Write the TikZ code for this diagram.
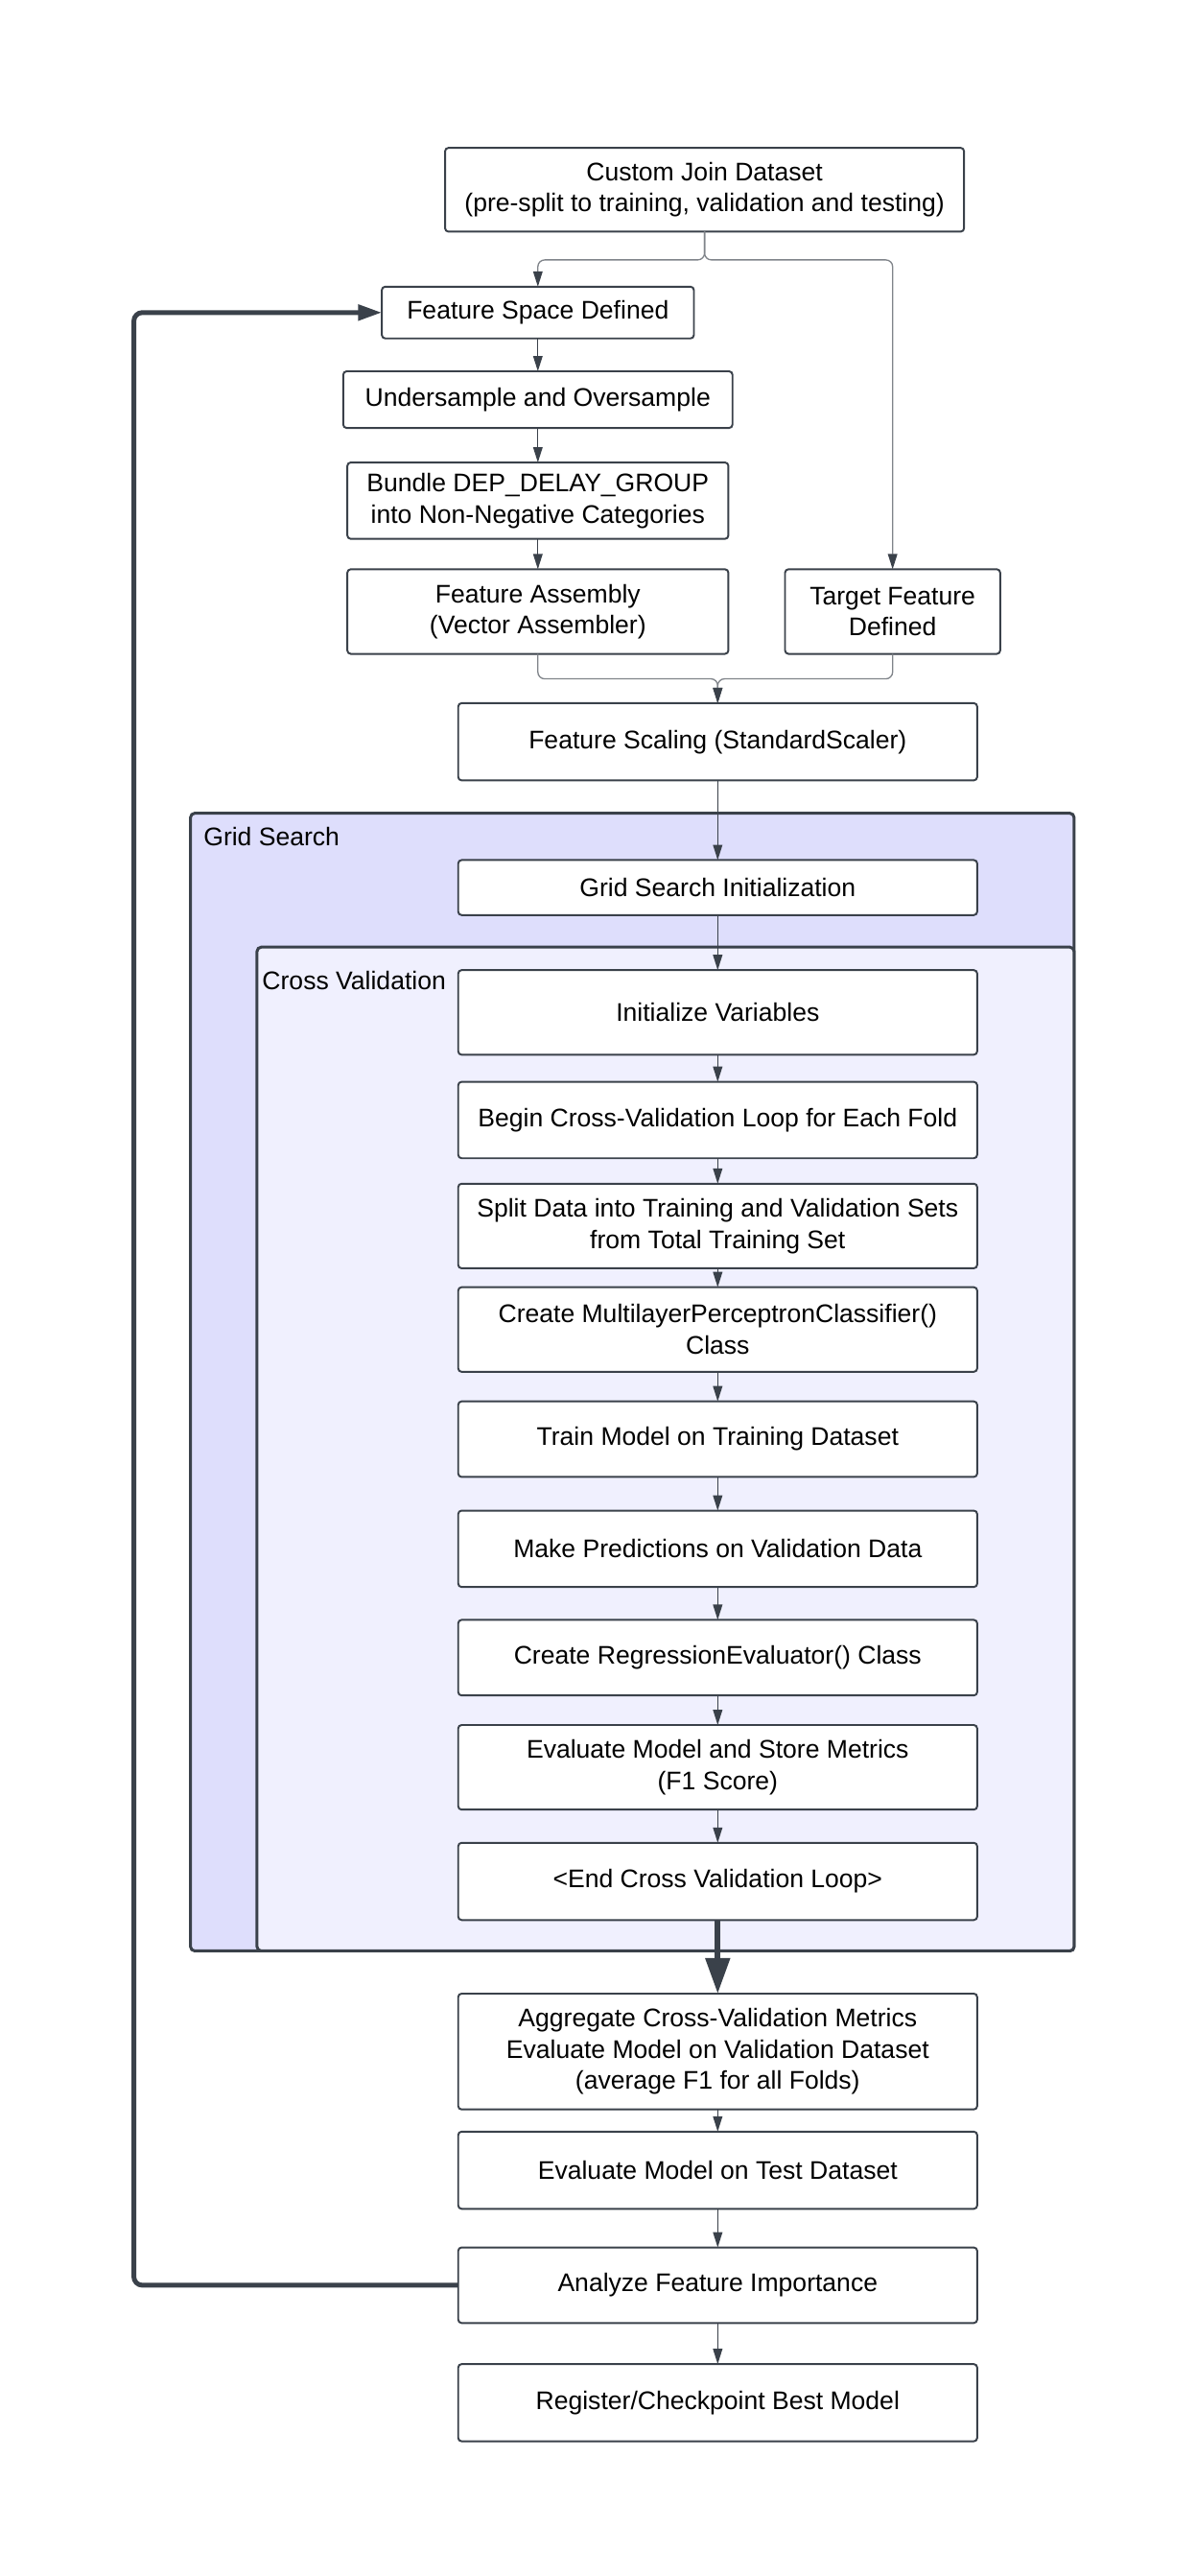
\documentclass[tikz,border=0pt]{standalone}
\usepackage{fontspec}
\setmainfont{Liberation Sans}
\usetikzlibrary{arrows.meta,positioning}
\definecolor{lineDark}{HTML}{3A414A}
\definecolor{lineGray}{HTML}{80848A}
\definecolor{gridFill}{HTML}{DEDEFC}
\definecolor{cvFill}{HTML}{F0F0FE}
\tikzstyle{stepbox} = [draw=lineDark, line width=1.1pt, fill=white, rounded corners=2pt, inner sep=0pt, outer sep=0pt, align=center, font=\fontsize{15}{18.4}\selectfont]
\tikzstyle{frame} = [draw=lineDark, line width=1.7pt, rounded corners=2.5pt, inner sep=0pt, outer sep=0pt]
\tikzstyle{framelabel} = [anchor=base west, inner sep=0pt, font=\fontsize{15}{18.4}\selectfont]
\tikzstyle{arrow} = [draw=lineDark, line width=0.75pt, -{Triangle[length=9pt,width=5.5pt]}]
\tikzstyle{grayarrow} = [draw=lineGray, line width=0.75pt, rounded corners=4pt, -{Triangle[length=9pt,width=5.5pt,color=lineDark]}]
\tikzstyle{bigarrow} = [draw=lineDark, line width=3.4pt, -{Triangle[length=21pt,width=14pt]}]
\tikzstyle{looparrow} = [draw=lineDark, line width=2.8pt, rounded corners=5pt, -{Triangle[length=14pt,width=9pt]}]
\begin{document}
\begin{tikzpicture}[x=0.034cm, y=-0.034cm]
\useasboundingbox (0,0) rectangle (728,1568);
% containers
\node (grid) at (385,841.25) [frame, fill=gridFill, minimum width=538*0.034cm, minimum height=692.5*0.034cm] {};
\node (cv) at (405.25,882) [frame, fill=cvFill, minimum width=497.5*0.034cm, minimum height=611*0.034cm] {};
\node (gridlabel) at (123.8,515) [framelabel] {Grid Search};
\node (cvlabel) at (159.5,602.5) [framelabel] {Cross Validation};
% top part
\draw (429,115.5) node (cj) [stepbox, minimum width=316*0.034cm, minimum height=51*0.034cm] {Custom Join Dataset\\(pre-split to training, validation and testing)};
\draw (327.5,190.25) node (fs) [stepbox, minimum width=190*0.034cm, minimum height=31.5*0.034cm] {Feature Space Defined};
\draw (327.5,243.25) node (us) [stepbox, minimum width=237*0.034cm, minimum height=34.5*0.034cm] {Undersample and Oversample};
\draw (327.5,304.75) node (bu) [stepbox, minimum width=232*0.034cm, minimum height=46.5*0.034cm] {Bundle DEP\_DELAY\_GROUP\\into Non-Negative Categories};
\draw (327.5,372.25) node (fa) [stepbox, minimum width=232*0.034cm, minimum height=51.5*0.034cm] {Feature Assembly\\(Vector Assembler)};
\draw (543.5,372.25) node (tf) [stepbox, minimum width=131*0.034cm, minimum height=51.5*0.034cm] {Target Feature\\Defined};
\draw (437,451.5) node (fsc) [stepbox, minimum width=316*0.034cm, minimum height=47*0.034cm] {Feature Scaling (StandardScaler)};
% grid search and cross validation
\draw (437,540.25) node (gi) [stepbox, minimum width=316*0.034cm, minimum height=33.5*0.034cm] {Grid Search Initialization};
\draw (437,616.25) node (iv) [stepbox, minimum width=316*0.034cm, minimum height=51.5*0.034cm] {Initialize Variables};
\draw (437,681.75) node (bl) [stepbox, minimum width=316*0.034cm, minimum height=46.5*0.034cm] {Begin Cross-Validation Loop for Each Fold};
\draw (437,746.25) node (sp) [stepbox, minimum width=316*0.034cm, minimum height=51.5*0.034cm] {Split Data into Training and Validation Sets\\from Total Training Set};
\draw (437,809.25) node (mlp) [stepbox, minimum width=316*0.034cm, minimum height=51.5*0.034cm] {Create MultilayerPerceptronClassifier()\\Class};
\draw (437,876) node (tm) [stepbox, minimum width=316*0.034cm, minimum height=46*0.034cm] {Train Model on Training Dataset};
\draw (437,942.75) node (mp) [stepbox, minimum width=316*0.034cm, minimum height=46.5*0.034cm] {Make Predictions on Validation Data};
\draw (437,1009) node (re) [stepbox, minimum width=316*0.034cm, minimum height=46*0.034cm] {Create RegressionEvaluator() Class};
\draw (437,1075.75) node (em) [stepbox, minimum width=316*0.034cm, minimum height=51.5*0.034cm] {Evaluate Model and Store Metrics\\(F1 Score)};
\draw (437,1145.2) node (ec) [stepbox, minimum width=316*0.034cm, minimum height=47*0.034cm] {<End Cross Validation Loop>};
% after the loop
\draw (437,1248.75) node (ag) [stepbox, minimum width=316*0.034cm, minimum height=70.5*0.034cm] {Aggregate Cross-Validation Metrics\\Evaluate Model on Validation Dataset\\(average F1 for all Folds)};
\draw (437,1321) node (et) [stepbox, minimum width=316*0.034cm, minimum height=47*0.034cm] {Evaluate Model on Test Dataset};
\draw (437,1391) node (af) [stepbox, minimum width=316*0.034cm, minimum height=46*0.034cm] {Analyze Feature Importance};
\draw (437,1462.5) node (rg) [stepbox, minimum width=316*0.034cm, minimum height=47*0.034cm] {Register/Checkpoint Best Model};
% connectors
\coordinate (split) at (429,158.2);
\coordinate (merge) at (437,413.2);
\coordinate (loopend) at (81.5,190.25);
\draw[grayarrow] (cj.south) -- (split) -| (fs.north);
\draw[grayarrow] (cj.south) -- (split) -| (tf.north);
\draw[arrow] (fs) -- (us);
\draw[arrow] (us) -- (bu);
\draw[arrow] (bu) -- (fa);
\draw[grayarrow] (fa.south) |- (merge) -- (fsc.north);
\draw[grayarrow] (tf.south) |- (merge) -- (fsc.north);
\draw[arrow] (fsc) -- (gi);
\draw[arrow] (gi) -- (iv);
\draw[arrow] (iv) -- (bl);
\draw[arrow] (bl) -- (sp);
\draw[arrow] (sp) -- (mlp);
\draw[arrow] (mlp) -- (tm);
\draw[arrow] (tm) -- (mp);
\draw[arrow] (mp) -- (re);
\draw[arrow] (re) -- (em);
\draw[arrow] (em) -- (ec);
\draw[bigarrow] (ec) -- (ag);
\draw[arrow] (ag) -- (et);
\draw[arrow] (et) -- (af);
\draw[arrow] (af) -- (rg);
\draw[looparrow] (af.west) -| (loopend) -- (fs.west);
\end{tikzpicture}
\end{document}
